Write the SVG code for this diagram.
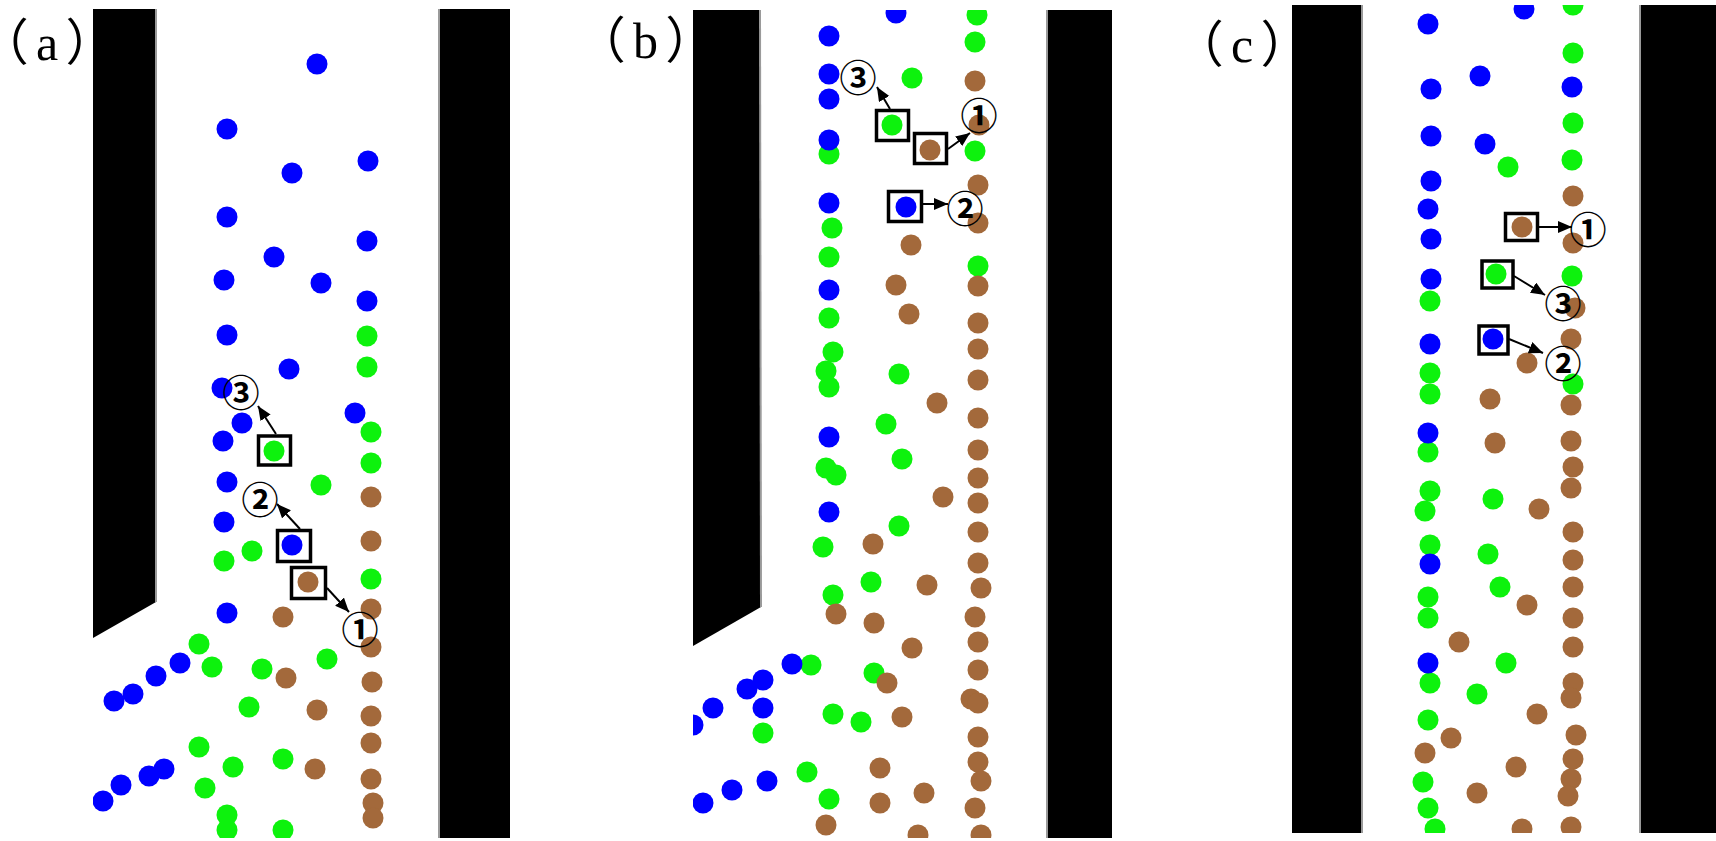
<svg xmlns="http://www.w3.org/2000/svg" width="1716" height="841" viewBox="0 0 1716 841">
<style>
.w{fill:#000}
.e{stroke:#9a9a9a;stroke-width:2}
.b{fill:#0000ff}
.g{fill:#0cf20c}
.r{fill:#a3693a}
.box{fill:none;stroke:#000;stroke-width:3.5}
.ar{stroke:#000;stroke-width:2;fill:none;marker-end:url(#ah)}
.num{font-family:"Noto Sans CJK SC","DejaVu Sans",sans-serif;font-size:37px;font-weight:bold;fill:#000;text-anchor:middle;dominant-baseline:central}
.lab{font-family:"Liberation Serif","Noto Sans CJK SC",serif;font-size:50px;fill:#000;font-feature-settings:"palt"}
</style>
<defs>
<marker id="ah" markerUnits="userSpaceOnUse" markerWidth="16" markerHeight="14" refX="14" refY="6" orient="auto">
<path d="M0,0 L14,6 L0,12 Z" fill="#000"/>
</marker>
<filter id="soft" x="-5%" y="-5%" width="110%" height="110%"><feGaussianBlur stdDeviation="0.7"/></filter>
<clipPath id="ca"><rect x="93" y="9" width="417" height="829"/></clipPath>
<clipPath id="cb"><rect x="693" y="10" width="419" height="828"/></clipPath>
<clipPath id="cc"><rect x="1292" y="5" width="424" height="828"/></clipPath>
</defs>
<rect width="1716" height="841" fill="#fff"/>

<g id="panel-a">
<text class="lab" x="2" y="60">（<tspan dx="9">a</tspan><tspan dx="9">）</tspan></text>
<polygon class="w" points="93,9 156,9 156,602 93,638"/>
<line class="e" x1="156" y1="9" x2="156" y2="602"/>
<rect class="w" x="439" y="9" width="71" height="829"/>
<line class="e" x1="439" y1="9" x2="439" y2="838"/>
<g clip-path="url(#ca)" filter="url(#soft)">
<g class="b">
<circle cx="317" cy="64" r="10.5"/><circle cx="227" cy="129" r="10.5"/><circle cx="368" cy="161" r="10.5"/><circle cx="292" cy="173" r="10.5"/><circle cx="227" cy="217" r="10.5"/><circle cx="367" cy="241" r="10.5"/><circle cx="274" cy="257" r="10.5"/><circle cx="224" cy="280" r="10.5"/><circle cx="321" cy="283" r="10.5"/><circle cx="367" cy="301" r="10.5"/><circle cx="227" cy="335" r="10.5"/><circle cx="289" cy="369" r="10.5"/><circle cx="222" cy="388" r="10.5"/><circle cx="242" cy="423" r="10.5"/><circle cx="355" cy="413" r="10.5"/><circle cx="223" cy="441" r="10.5"/><circle cx="227" cy="482" r="10.5"/><circle cx="224" cy="522" r="10.5"/><circle cx="292" cy="545" r="10.5"/><circle cx="227" cy="613" r="10.5"/><circle cx="180" cy="663" r="10.5"/><circle cx="156" cy="676" r="10.5"/><circle cx="133" cy="694" r="10.5"/><circle cx="114" cy="701" r="10.5"/><circle cx="164" cy="769" r="10.5"/><circle cx="149" cy="776" r="10.5"/><circle cx="121" cy="785" r="10.5"/><circle cx="103" cy="801" r="10.5"/>
</g>
<g class="g">
<circle cx="367" cy="336" r="10.5"/><circle cx="367" cy="367" r="10.5"/><circle cx="371" cy="432" r="10.5"/><circle cx="274" cy="451" r="10.5"/><circle cx="371" cy="463" r="10.5"/><circle cx="321" cy="485" r="10.5"/><circle cx="252" cy="551" r="10.5"/><circle cx="224" cy="561" r="10.5"/><circle cx="371" cy="579" r="10.5"/><circle cx="199" cy="644" r="10.5"/><circle cx="212" cy="667" r="10.5"/><circle cx="262" cy="669" r="10.5"/><circle cx="327" cy="659" r="10.5"/><circle cx="249" cy="707" r="10.5"/><circle cx="199" cy="747" r="10.5"/><circle cx="233" cy="767" r="10.5"/><circle cx="283" cy="759" r="10.5"/><circle cx="205" cy="788" r="10.5"/><circle cx="227" cy="815" r="10.5"/><circle cx="227" cy="830" r="10.5"/><circle cx="283" cy="830" r="10.5"/>
</g>
<g class="r">
<circle cx="371" cy="497" r="10.5"/><circle cx="371" cy="541" r="10.5"/><circle cx="308" cy="582" r="10.5"/><circle cx="371" cy="609" r="10.5"/><circle cx="283" cy="617" r="10.5"/><circle cx="371" cy="647" r="10.5"/><circle cx="286" cy="678" r="10.5"/><circle cx="372" cy="682" r="10.5"/><circle cx="317" cy="710" r="10.5"/><circle cx="371" cy="716" r="10.5"/><circle cx="371" cy="743" r="10.5"/><circle cx="315" cy="769" r="10.5"/><circle cx="371" cy="779" r="10.5"/><circle cx="373" cy="803" r="10.5"/><circle cx="373" cy="818" r="10.5"/>
</g>
</g>
<g id="a-p3"><rect class="box" x="258.5" y="436" width="32" height="29"/><line class="ar" x1="276" y1="434" x2="258" y2="406"/><text class="num" x="241" y="391">③</text></g>
<g id="a-p2"><rect class="box" x="277.5" y="530.5" width="33" height="31"/><line class="ar" x1="300" y1="529" x2="277" y2="504"/><text class="num" x="260" y="498">②</text></g>
<g id="a-p1"><rect class="box" x="291.5" y="567.5" width="34" height="31"/><line class="ar" x1="327" y1="588" x2="349" y2="612"/><text class="num" x="360" y="628">①</text></g>
</g>

<g id="panel-b">
<text class="lab" x="599" y="58">（<tspan dx="9">b</tspan><tspan dx="9">）</tspan></text>
<polygon class="w" points="693,10 760,10 761,607 693,646"/>
<line class="e" x1="760" y1="10" x2="761" y2="607"/>
<rect class="w" x="1047" y="10" width="65" height="828"/>
<line class="e" x1="1047" y1="10" x2="1047" y2="838"/>
<g clip-path="url(#cb)" filter="url(#soft)">
<g class="g">
<circle cx="977" cy="15" r="10.5"/><circle cx="975" cy="42" r="10.5"/><circle cx="912" cy="78" r="10.5"/><circle cx="892" cy="125" r="10.5"/><circle cx="829" cy="154" r="10.5"/><circle cx="975" cy="151" r="10.5"/><circle cx="832" cy="228" r="10.5"/><circle cx="829" cy="257" r="10.5"/><circle cx="978" cy="266" r="10.5"/><circle cx="829" cy="318" r="10.5"/><circle cx="833" cy="352" r="10.5"/><circle cx="826" cy="371" r="10.5"/><circle cx="829" cy="387" r="10.5"/><circle cx="899" cy="374" r="10.5"/><circle cx="886" cy="424" r="10.5"/><circle cx="902" cy="459" r="10.5"/><circle cx="826" cy="468" r="10.5"/><circle cx="836" cy="475" r="10.5"/><circle cx="899" cy="526" r="10.5"/><circle cx="823" cy="547" r="10.5"/><circle cx="871" cy="582" r="10.5"/><circle cx="833" cy="595" r="10.5"/><circle cx="811" cy="665" r="10.5"/><circle cx="833" cy="714" r="10.5"/><circle cx="861" cy="722" r="10.5"/><circle cx="763" cy="733" r="10.5"/><circle cx="807" cy="772" r="10.5"/><circle cx="829" cy="799" r="10.5"/>
</g>
<g class="b">
<circle cx="896" cy="13" r="10.5"/><circle cx="829" cy="36" r="10.5"/><circle cx="829" cy="74" r="10.5"/><circle cx="829" cy="99" r="10.5"/><circle cx="829" cy="140" r="10.5"/><circle cx="829" cy="203" r="10.5"/><circle cx="906" cy="207" r="10.5"/><circle cx="829" cy="290" r="10.5"/><circle cx="829" cy="437" r="10.5"/><circle cx="829" cy="512" r="10.5"/><circle cx="792" cy="664" r="10.5"/><circle cx="763" cy="680" r="10.5"/><circle cx="747" cy="689" r="10.5"/><circle cx="713" cy="708" r="10.5"/><circle cx="763" cy="708" r="10.5"/><circle cx="693" cy="725" r="10.5"/><circle cx="767" cy="781" r="10.5"/><circle cx="732" cy="790" r="10.5"/><circle cx="703" cy="803" r="10.5"/>
</g>
<g class="g"><circle cx="874" cy="673" r="10.5"/></g>
<g class="r">
<circle cx="975" cy="81" r="10.5"/><circle cx="979" cy="125" r="10.5"/><circle cx="930" cy="150" r="10.5"/><circle cx="978" cy="185" r="10.5"/><circle cx="978" cy="223" r="10.5"/><circle cx="911" cy="245" r="10.5"/><circle cx="896" cy="285" r="10.5"/><circle cx="978" cy="286" r="10.5"/><circle cx="909" cy="314" r="10.5"/><circle cx="978" cy="323" r="10.5"/><circle cx="978" cy="349" r="10.5"/><circle cx="978" cy="380" r="10.5"/><circle cx="937" cy="403" r="10.5"/><circle cx="978" cy="418" r="10.5"/><circle cx="978" cy="450" r="10.5"/><circle cx="978" cy="478" r="10.5"/><circle cx="943" cy="497" r="10.5"/><circle cx="978" cy="503" r="10.5"/><circle cx="978" cy="532" r="10.5"/><circle cx="873" cy="544" r="10.5"/><circle cx="978" cy="563" r="10.5"/><circle cx="981" cy="588" r="10.5"/><circle cx="927" cy="585" r="10.5"/><circle cx="836" cy="614" r="10.5"/><circle cx="874" cy="623" r="10.5"/><circle cx="975" cy="617" r="10.5"/><circle cx="978" cy="642" r="10.5"/><circle cx="912" cy="648" r="10.5"/><circle cx="887" cy="683" r="10.5"/><circle cx="978" cy="670" r="10.5"/><circle cx="971" cy="699" r="10.5"/><circle cx="978" cy="703" r="10.5"/><circle cx="902" cy="717" r="10.5"/><circle cx="978" cy="737" r="10.5"/><circle cx="978" cy="762" r="10.5"/><circle cx="981" cy="781" r="10.5"/><circle cx="880" cy="768" r="10.5"/><circle cx="880" cy="803" r="10.5"/><circle cx="924" cy="793" r="10.5"/><circle cx="975" cy="808" r="10.5"/><circle cx="826" cy="825" r="10.5"/><circle cx="918" cy="835" r="10.5"/><circle cx="981" cy="835" r="10.5"/>
</g>
</g>
<g id="b-p3"><rect class="box" x="876.5" y="110.5" width="32" height="30"/><line class="ar" x1="890" y1="109" x2="877" y2="87"/><text class="num" x="858" y="76">③</text></g>
<g id="b-p1"><rect class="box" x="914.5" y="133.5" width="32" height="30"/><line class="ar" x1="948" y1="149" x2="970" y2="133"/><text class="num" x="979" y="114">①</text></g>
<g id="b-p2"><rect class="box" x="888.5" y="191.5" width="33" height="30"/><line class="ar" x1="923" y1="204" x2="948" y2="204"/><text class="num" x="965" y="207">②</text></g>
</g>

<g id="panel-c">
<text class="lab" x="1197" y="62">（<tspan dx="9">c</tspan><tspan dx="9">）</tspan></text>
<rect class="w" x="1292" y="5" width="70" height="828"/>
<line class="e" x1="1362" y1="5" x2="1362" y2="833"/>
<rect class="w" x="1640" y="5" width="76" height="828"/>
<line class="e" x1="1640" y1="5" x2="1640" y2="833"/>
<g clip-path="url(#cc)" filter="url(#soft)">
<g class="g">
<circle cx="1573" cy="5" r="10.5"/><circle cx="1573" cy="53" r="10.5"/><circle cx="1573" cy="123" r="10.5"/><circle cx="1572" cy="160" r="10.5"/><circle cx="1508" cy="167" r="10.5"/><circle cx="1496" cy="274" r="10.5"/><circle cx="1572" cy="276" r="10.5"/><circle cx="1430" cy="301" r="10.5"/><circle cx="1573" cy="384" r="10.5"/><circle cx="1430" cy="373" r="10.5"/><circle cx="1430" cy="394" r="10.5"/><circle cx="1428" cy="452" r="10.5"/><circle cx="1430" cy="491" r="10.5"/><circle cx="1425" cy="511" r="10.5"/><circle cx="1493" cy="499" r="10.5"/><circle cx="1430" cy="545" r="10.5"/><circle cx="1488" cy="554" r="10.5"/><circle cx="1500" cy="587" r="10.5"/><circle cx="1428" cy="597" r="10.5"/><circle cx="1428" cy="618" r="10.5"/><circle cx="1506" cy="663" r="10.5"/><circle cx="1430" cy="683" r="10.5"/><circle cx="1477" cy="694" r="10.5"/><circle cx="1428" cy="720" r="10.5"/><circle cx="1423" cy="782" r="10.5"/><circle cx="1428" cy="808" r="10.5"/><circle cx="1435" cy="829" r="10.5"/>
</g>
<g class="b">
<circle cx="1524" cy="9" r="10.5"/><circle cx="1428" cy="24" r="10.5"/><circle cx="1480" cy="76" r="10.5"/><circle cx="1431" cy="89" r="10.5"/><circle cx="1572" cy="87" r="10.5"/><circle cx="1431" cy="136" r="10.5"/><circle cx="1485" cy="144" r="10.5"/><circle cx="1431" cy="181" r="10.5"/><circle cx="1428" cy="209" r="10.5"/><circle cx="1431" cy="239" r="10.5"/><circle cx="1431" cy="279" r="10.5"/><circle cx="1493" cy="339" r="10.5"/><circle cx="1430" cy="344" r="10.5"/><circle cx="1428" cy="433" r="10.5"/><circle cx="1430" cy="564" r="10.5"/><circle cx="1428" cy="663" r="10.5"/>
</g>
<g class="r">
<circle cx="1573" cy="196" r="10.5"/><circle cx="1522" cy="227" r="10.5"/><circle cx="1573" cy="243" r="10.5"/><circle cx="1575" cy="308" r="10.5"/><circle cx="1571" cy="339" r="10.5"/><circle cx="1527" cy="363" r="10.5"/><circle cx="1490" cy="399" r="10.5"/><circle cx="1571" cy="405" r="10.5"/><circle cx="1495" cy="443" r="10.5"/><circle cx="1571" cy="441" r="10.5"/><circle cx="1573" cy="467" r="10.5"/><circle cx="1571" cy="488" r="10.5"/><circle cx="1539" cy="509" r="10.5"/><circle cx="1573" cy="532" r="10.5"/><circle cx="1573" cy="560" r="10.5"/><circle cx="1573" cy="587" r="10.5"/><circle cx="1527" cy="605" r="10.5"/><circle cx="1573" cy="618" r="10.5"/><circle cx="1459" cy="642" r="10.5"/><circle cx="1573" cy="647" r="10.5"/><circle cx="1573" cy="683" r="10.5"/><circle cx="1571" cy="698" r="10.5"/><circle cx="1537" cy="714" r="10.5"/><circle cx="1451" cy="738" r="10.5"/><circle cx="1576" cy="735" r="10.5"/><circle cx="1425" cy="753" r="10.5"/><circle cx="1573" cy="759" r="10.5"/><circle cx="1516" cy="767" r="10.5"/><circle cx="1571" cy="779" r="10.5"/><circle cx="1477" cy="793" r="10.5"/><circle cx="1568" cy="796" r="10.5"/><circle cx="1522" cy="829" r="10.5"/><circle cx="1571" cy="827" r="10.5"/>
</g>
</g>
<g id="c-p1"><rect class="box" x="1505.5" y="213.5" width="32" height="27"/><line class="ar" x1="1539" y1="227" x2="1572" y2="227"/><text class="num" x="1588" y="228">①</text></g>
<g id="c-p3"><rect class="box" x="1482" y="261" width="31" height="27"/><line class="ar" x1="1514" y1="276" x2="1545" y2="295"/><text class="num" x="1563" y="302">③</text></g>
<g id="c-p2"><rect class="box" x="1479" y="326" width="29" height="28"/><line class="ar" x1="1509" y1="339" x2="1543" y2="353"/><text class="num" x="1563" y="362">②</text></g>
</g>
</svg>
